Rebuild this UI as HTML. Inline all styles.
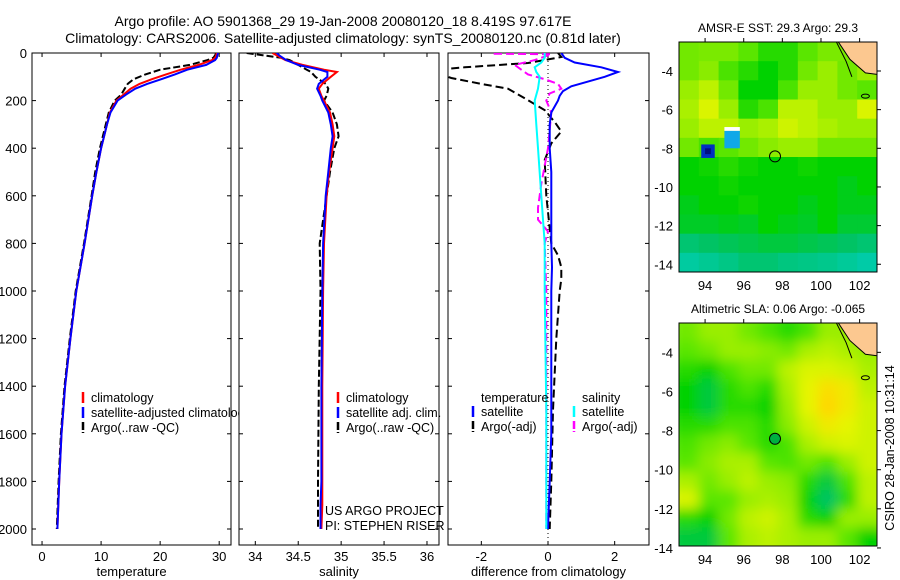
<!DOCTYPE html>
<html><head><meta charset="utf-8"><style>
html,body{margin:0;padding:0;background:#fff;}
svg{display:block;font-family:"Liberation Sans",sans-serif;}
</style></head><body>
<svg id="fig" width="900" height="580" viewBox="0 0 900 580">
<text x="343" y="26" font-size="14" text-anchor="middle">Argo profile: AO 5901368_29 19-Jan-2008 20080120_18 8.419S 97.617E</text>
<text x="343" y="43" font-size="14" text-anchor="middle">Climatology: CARS2006. Satellite-adjusted climatology: synTS_20080120.nc (0.81d later)</text>
<g id="layer"></g>
</svg>
<script>
// ---- profile data ----
const depthT=[0,10,20,30,50,70,90,110,130,150,175,200,250,300,400,500,600,800,1000,1200,1400,1600,1800,2000];
const climT=[29.6,29.5,29.3,28.8,26.5,23.5,21,18.6,16.5,15,13.8,12.6,11.5,11,10,9.2,8.5,7.2,5.8,4.8,3.9,3.3,2.9,2.6];
const satT=[29.8,29.7,29.6,29.3,27.8,24.6,22.5,20.2,17.8,15.8,14.2,12.8,11.6,11,10,9.2,8.5,7.2,5.8,4.8,3.9,3.3,2.9,2.6];
const argoT=[29.5,29.3,29,28,25,20,17.5,15.5,14.5,14,13.4,12.3,11.3,10.8,9.8,9.0,8.4,7.1,5.7,4.7,3.8,3.2,2.8,2.5];
const depthS=[0,10,20,30,50,70,80,100,130,150,180,200,250,300,350,400,500,600,800,1000,1400,1800,1900,2000];
const climS=[34.2,34.25,34.3,34.35,34.55,34.8,34.95,34.88,34.78,34.74,34.77,34.8,34.87,34.9,34.92,34.9,34.86,34.83,34.8,34.79,34.78,34.78,34.78,34.77];
const satS=[34.25,34.28,34.32,34.36,34.5,34.75,34.84,34.84,34.74,34.72,34.76,34.78,34.85,34.88,34.9,34.88,34.85,34.82,34.79,34.78,34.77,34.77,34.76,34.76];
const argoS=[33.9,34.1,34.3,34.4,34.5,34.6,34.65,34.7,34.82,34.85,34.83,34.8,34.9,34.95,34.97,34.92,34.87,34.83,34.75,34.76,34.74,34.73,34.73,34.73];
const depthSatTd=[0,20,40,60,80,100,120,140,160,180,200,250,300,400,500,600,700,800,900,1000,1200,1400,1600,1800,2000];
const satTd=[0.4,0.5,0.8,1.6,2.1,1.7,1.2,0.7,0.45,0.35,0.3,0.1,0.05,0.05,0.1,0.1,0.1,0.1,0.12,0.1,0.1,0.1,0.1,0.05,0.0];
const depthArgoTd=[0,17,42,60,70,85,105,130,150,190,240,290,330,380,450,600,800,850,900,950,1000,1200,1500,1800,2000];
const argoTd=[0.3,0.4,-0.6,-2.5,-3.3,-3.3,-2.9,-2.0,-1.2,-0.7,-0.1,0.2,0.4,0.1,-0.1,-0.05,0.1,0.3,0.4,0.4,0.35,0.25,0.15,0.1,0.05];
const depthSatSd=[0,20,40,60,80,100,150,200,300,400,600,800,1000,1500,2000];
const satSd=[-0.1,-0.1,-0.2,-0.4,-0.35,-0.25,-0.3,-0.4,-0.35,-0.3,-0.2,-0.1,-0.1,-0.05,-0.05];
const depthArgoSd=[0,3,5,30,50,70,90,110,130,150,170,200,250,400,550,650,700,750,800,1000,1500,2000];
const argoSd=[-1.6,-1.6,0.1,-0.4,-1.0,-0.8,-0.6,-0.1,0.3,0.4,0.05,-0.05,0.1,0.0,-0.2,-0.3,-0.3,0.0,-0.1,-0.05,-0.05,-0.05];
const depthTicks=[0,200,400,600,800,1000,1200,1400,1600,1800,2000];
const tTicks=[0,10,20,30];
const sTicks=[34,34.5,35,35.5,36];
const dTicks=[-2,0,2];
// ---- map data (0=teal/blue .. 1=orange) ----
const sstGrid=[
[0.65,0.66,0.66,0.62,0.55,0.55,0.62,0.66,0.66,0.68],
[0.65,0.68,0.6,0.55,0.5,0.55,0.65,0.7,0.65,0.7],
[0.7,0.75,0.65,0.5,0.5,0.6,0.7,0.7,0.65,0.62],
[0.72,0.8,0.7,0.55,0.6,0.75,0.75,0.7,0.7,0.8],
[0.7,0.75,0.75,0.7,0.72,0.78,0.75,0.72,0.7,0.7],
[0.65,0.6,0.62,0.65,0.68,0.7,0.7,0.65,0.65,0.65],
[0.5,0.52,0.55,0.52,0.5,0.5,0.52,0.5,0.5,0.5],
[0.5,0.5,0.52,0.5,0.5,0.5,0.5,0.5,0.48,0.5],
[0.48,0.5,0.5,0.52,0.5,0.5,0.48,0.5,0.48,0.48],
[0.47,0.47,0.48,0.47,0.5,0.48,0.47,0.5,0.46,0.46],
[0.4,0.42,0.43,0.44,0.45,0.45,0.44,0.43,0.42,0.4],
[0.33,0.35,0.37,0.4,0.4,0.38,0.37,0.36,0.34,0.32]];
const slaGrid=[
[0.65,0.7,0.7,0.65,0.6,0.55,0.6,0.7,0.7,0.7],
[0.62,0.65,0.7,0.7,0.68,0.65,0.72,0.75,0.72,0.7],
[0.55,0.5,0.6,0.65,0.65,0.75,0.8,0.8,0.78,0.72],
[0.5,0.45,0.55,0.6,0.55,0.72,0.82,0.88,0.85,0.75],
[0.5,0.45,0.55,0.55,0.5,0.7,0.82,0.9,0.85,0.78],
[0.55,0.55,0.6,0.6,0.55,0.68,0.78,0.85,0.82,0.78],
[0.6,0.65,0.68,0.62,0.55,0.6,0.72,0.78,0.8,0.78],
[0.62,0.68,0.72,0.72,0.62,0.6,0.65,0.6,0.7,0.78],
[0.72,0.65,0.7,0.75,0.7,0.68,0.55,0.45,0.6,0.75],
[0.8,0.62,0.62,0.7,0.72,0.7,0.5,0.42,0.55,0.75],
[0.55,0.5,0.65,0.75,0.78,0.72,0.55,0.5,0.7,0.7],
[0.45,0.45,0.62,0.72,0.75,0.72,0.7,0.7,0.62,0.5]];
const latTicks=[-4,-6,-8,-10,-12,-14];
const lonTicks=[94,96,98,100,102];

const NS='http://www.w3.org/2000/svg';
const layer=document.getElementById('layer');
function mk(tag,attrs,parent){const e=document.createElementNS(NS,tag);for(const k in attrs)e.setAttribute(k,attrs[k]);(parent||layer).appendChild(e);return e;}
const Y0=53,Y1=545,DMAX=(Y1-Y0)/0.238;
function yD(d){return Y0+d/DMAX*(Y1-Y0);}
function panel(name,x0,x1,xmin,xmax,xticks,xlabel,showY){
  const sx=v=>x0+(v-xmin)/(xmax-xmin)*(x1-x0);
  const g=mk('g',{});
  
  
  const r=mk('rect',{x:x0,y:Y0,width:x1-x0,height:Y1-Y0,fill:'#fff',stroke:'#000','stroke-width':1},g);
  
  
  depthTicks.forEach(d=>{const y=yD(d);
    mk('line',{x1:x0,x2:x0+4,y1:y,y2:y,stroke:'#000'},g);
    mk('line',{x1:x1-4,x2:x1,y1:y,y2:y,stroke:'#000'},g);
    if(showY){const t=mk('text',{x:x0-5,y:y+5,'font-size':13,'text-anchor':'end'},g);t.textContent=d;
      
      }
  });
  xticks.forEach(v=>{const x=sx(v);
    mk('line',{x1:x,x2:x,y1:Y0,y2:Y0+4,stroke:'#000'},g);
    mk('line',{x1:x,x2:x,y1:Y1-4,y2:Y1,stroke:'#000'},g);
    const t=mk('text',{x:x,y:Y1+16,'font-size':13,'text-anchor':'middle'},g);t.textContent=v;
    
    
  });
  const t=mk('text',{x:(x0+x1)/2,y:Y1+31,'font-size':13,'text-anchor':'middle'},g);t.textContent=xlabel;
  
  
  return {sx,g,x0,x1};
}
let clipN=0;
function series(p,name,depths,vals,color,dash,w){
  const id='c'+(clipN++);
  const cp=mk('clipPath',{id:id},p.g);mk('rect',{x:p.x0,y:Y0,width:p.x1-p.x0,height:Y1-Y0},cp);
  const pts=depths.map((d,i)=>p.sx(vals[i]).toFixed(1)+','+yD(d).toFixed(1)).join(' ');
  const pl=mk('polyline',{points:pts,fill:'none',stroke:color,'stroke-width':w||2,'clip-path':'url(#'+id+')'},p.g);
  if(dash)pl.setAttribute('stroke-dasharray',dash);
  
  
}
function legend(g,x,y,color,label,dash){
  const l=mk('line',{x1:x,x2:x,y1:y-6,y2:y+5,stroke:color,'stroke-width':2.5},g);
  if(dash)l.setAttribute('stroke-dasharray','8,2');
  
  
  const t=mk('text',{x:x+8,y:y+4,'font-size':12.5},g);t.textContent=label;
  
  
}
// Panel 1
const p1=panel('temperature-panel',32,231,-1.7,32,tTicks,'temperature',true);
series(p1,'argo-temperature-line',depthT,argoT,'#000','7,3');
series(p1,'climatology-temperature-line',depthT,climT,'#f00');
series(p1,'satellite-temperature-line',depthT,satT,'#00f');
legend(p1.g,83,398,'#f00','climatology');
legend(p1.g,83,413,'#00f','satellite-adjusted climatology');
legend(p1.g,83,428,'#000','Argo(..raw -QC)',true);
// Panel 2
const p2=panel('salinity-panel',239,439,33.81,36.14,sTicks,'salinity',false);
series(p2,'argo-salinity-line',depthS,argoS,'#000','7,3');
series(p2,'climatology-salinity-line',depthS,climS,'#f00');
series(p2,'satellite-salinity-line',depthS,satS,'#00f');
legend(p2.g,338,398,'#f00','climatology');
legend(p2.g,338,413,'#00f','satellite adj. clim.');
legend(p2.g,338,428,'#000','Argo(..raw -QC)',true);
let t=mk('text',{x:325,y:515,'font-size':12.5},p2.g);t.textContent='US ARGO PROJECT';

t=mk('text',{x:325,y:530,'font-size':12.5},p2.g);t.textContent='PI: STEPHEN RISER';

// Panel 3
const p3=panel('difference-panel',448,649,-3.0,3.03,dTicks,'difference from climatology',false);
mk('line',{x1:p3.sx(0),x2:p3.sx(0),y1:Y0,y2:Y1,stroke:'#000','stroke-dasharray':'1,3'},p3.g);
series(p3,'argo-temperature-diff-line',depthArgoTd,argoTd,'#000','8,4');
series(p3,'argo-salinity-diff-line',depthArgoSd,argoSd,'#f0f','8,4');
series(p3,'satellite-temperature-diff-line',depthSatTd,satTd,'#00f');
series(p3,'satellite-salinity-diff-line',depthSatSd,satSd,'#0ff');
t=mk('text',{x:481,y:402,'font-size':12.5},p3.g);t.textContent='temperature';

t=mk('text',{x:582,y:402,'font-size':12.5},p3.g);t.textContent='salinity';

legend(p3.g,473,412,'#00f','satellite');
legend(p3.g,473,427,'#000','Argo(-adj)',true);
legend(p3.g,574,412,'#0ff','satellite');
legend(p3.g,574,427,'#f0f','Argo(-adj)',true);

// ---- maps ----
const stops=[[0,[0,80,220]],[0.3,[0,205,180]],[0.42,[0,195,100]],[0.5,[0,210,0]],[0.62,[90,230,0]],[0.72,[170,240,0]],[0.82,[230,245,0]],[0.9,[255,215,0]],[1,[255,170,0]]];
function cmap(v){for(let i=1;i<stops.length;i++){if(v<=stops[i][0]){const a=stops[i-1],b=stops[i],f=(v-a[0])/(b[0]-a[0]);return 'rgb('+a[1].map((c,k)=>Math.round(c+f*(b[1][k]-c))).join(',')+')';}}return 'rgb(255,170,0)';}
function map(name,title,x0,x1,y0,y1,lon0,lon1,lat0,lat1,grid,markerFill,blur){
  const sx=v=>x0+(v-lon0)/(lon1-lon0)*(x1-x0), sy=v=>y0+(lat0-v)/(lat0-lat1)*(y1-y0);
  const g=mk('g',{});
  
  
  const id='m'+name;
  const cp=mk('clipPath',{id:id+'c'},g);mk('rect',{x:x0,y:y0,width:x1-x0,height:y1-y0},cp);
  if(blur){const f=mk('filter',{id:id+'f',x:'-10%',y:'-10%',width:'120%',height:'120%'},g);mk('feGaussianBlur',{stdDeviation:6},f);}
  const cells=mk('g',{'clip-path':'url(#'+id+'c)'},g);
  const inner=mk('g',blur?{filter:'url(#'+id+'f)'}:{},cells);
  const R=grid.length,C=grid[0].length,cw=(x1-x0)/C,ch=(y1-y0)/R;
  mk('rect',{x:x0-10,y:y0-10,width:x1-x0+20,height:y1-y0+20,fill:cmap(0.6)},inner);
  grid.forEach((row,r)=>row.forEach((v,c)=>{
    const rc=mk('rect',{x:x0+c*cw-(c==0?10:0),y:y0+r*ch-(r==0?10:0),width:cw+0.6+(c==0||c==C-1?10:0),height:ch+0.6+(r==0||r==R-1?10:0),fill:cmap(v)},inner);
    
    
  }));
  const land=[[100.9,lat0],[lon1+1,lat0],[lon1+1,-4.3],[102.3,-4.1],[101.5,-3.4]];
  const lp=mk('polygon',{points:land.map(p=>sx(p[0])+','+sy(p[1])).join(' '),fill:'#fcc890',stroke:'#000','stroke-width':1},cells);
  
  mk('polyline',{points:[[100.8,lat0],[101.3,-3.5],[101.6,-4.3]].map(p=>sx(p[0])+','+sy(p[1])).join(' '),fill:'none',stroke:'#000'},cells);
  mk('ellipse',{cx:sx(102.3),cy:sy(-5.3),rx:4,ry:2,fill:'none',stroke:'#000'},cells);
  const fr=mk('rect',{x:x0,y:y0,width:x1-x0,height:y1-y0,fill:'none',stroke:'#000'},g);
  
  latTicks.forEach(v=>{const y=sy(v);
    mk('line',{x1:x1,x2:x1+4,y1:y,y2:y,stroke:'#000'},g);
    const t=mk('text',{x:x0-6,y:y+5,'font-size':13,'text-anchor':'end'},g);t.textContent=v;
    });
  lonTicks.forEach(v=>{const x=sx(v);
    mk('line',{x1:x,x2:x,y1:y0-4,y2:y0,stroke:'#000'},g);
    const t=mk('text',{x:x,y:y1+18,'font-size':13,'text-anchor':'middle'},g);t.textContent=v;
    });
  const tt=mk('text',{x:(x0+x1)/2,y:y0-10,'font-size':12,'text-anchor':'middle'},g);tt.textContent=title;
  
  const m=mk('circle',{cx:sx(97.62),cy:sy(-8.42),r:5.5,fill:markerFill,stroke:'#000','stroke-width':1},g);
  
  return {sx,sy,g};
}
const m1=map('sst-map','AMSR-E SST: 29.3  Argo: 29.3',679,877,42,272,92.65,102.9,-2.5,-14.4,sstGrid,'none',false);
[[95,-6.9,95.8,-7.1,'#fff'],[95,-7.1,95.8,-8,'#10a8e8'],[93.8,-7.8,94.5,-8.5,'#0030c0'],[94,-8,94.3,-8.3,'#001080']].forEach(s=>{
  const r=mk('rect',{x:m1.sx(s[0]),y:m1.sy(s[1]),width:m1.sx(s[2])-m1.sx(s[0]),height:m1.sy(s[3])-m1.sy(s[1]),fill:s[4]},m1.g);
  
});
map('sla-map','Altimetric SLA: 0.06  Argo: -0.065',679,877,323,546,92.65,102.9,-2.5,-13.9,slaGrid,'#00b040',true);
t=mk('text',{x:0,y:0,'font-size':12.5,'text-anchor':'middle',transform:'translate(894,448) rotate(-90)'});
t.textContent='CSIRO 28-Jan-2008 10:31:14';

</script>
</body></html>
